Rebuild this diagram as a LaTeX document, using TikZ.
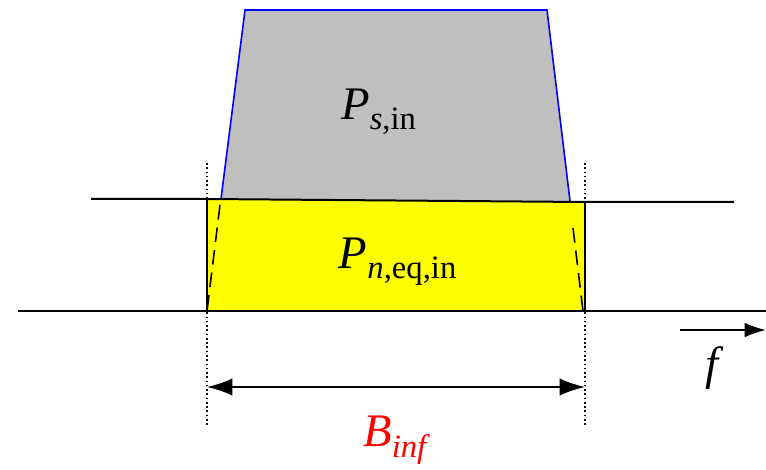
\documentclass[tikz,border=0pt]{standalone}
\usepackage{fontspec}
\setmainfont{Liberation Serif}[ItalicFont={Liberation Serif Italic}]
\usetikzlibrary{arrows.meta}

\definecolor{sgray}{HTML}{BFBFBF}
\definecolor{nyellow}{HTML}{FFFF00}
\tikzset{
  lbl/.style={font=\fontsize{35}{40}\selectfont, inner sep=0pt},
  edge/.style={line width=1.5pt},
}

\begin{document}
\begin{tikzpicture}[x=0.75pt, y=-0.75pt]
    \useasboundingbox (0,0) rectangle (766,470);

    % --- Signal power on top ---
    \coordinate (s1) at (221,199);
    \coordinate (s2) at (245,10);
    \coordinate (s3) at (547,10);
    \coordinate (s4) at (570,201);
    \fill[sgray] (s1) -- (s2) -- (s3) -- (s4) -- cycle;
    \draw[blue, line width=1.2pt] (s1) -- (s2) -- (s3) -- (s4);

    % --- Noise power below ---
    \coordinate (n1) at (207,311);
    \coordinate (n2) at (207,199);
    \coordinate (n3) at (585,202);
    \coordinate (n4) at (585,311);
    \fill[nyellow] (n1) -- (n2) -- (n3) -- (n4) -- cycle;
    \draw[edge] (91,199) -- (n2) -- (n3) -- (734,202);
    \draw[edge] (n1) -- (n2);
    \draw[edge] (n3) -- (n4);

    % dashed continuation of the signal flanks
    \draw[line width=1.2pt, dash pattern=on 11pt off 6pt] (220,205) -- (n1);
    \draw[line width=1.2pt, dash pattern=on 11pt off 6pt] (573,228) -- (583,311);

    % frequency axis
    \draw[edge] (18,311) -- (766,311);

    % --- Bandwidth markers ---
    \coordinate (bl) at (207,387);
    \coordinate (br) at (585,387);
    \draw[line width=1.2pt, dotted] (207,163) -- (207,425);
    \draw[line width=1.2pt, dotted] (585,163) -- (585,425);
    \draw[edge, {Latex[length=19pt,width=13pt]}-{Latex[length=19pt,width=13pt]}] (bl) -- (br);

    % frequency arrow
    \coordinate (fa) at (680,330);
    \coordinate (fb) at (766,330);
    \draw[edge, -{Latex[length=16pt,width=11pt]}] (fa) -- (fb);

    % --- Labels ---
    \node[lbl] (ps) at (379,112) {\textit{P}\textsubscript{\textit{s},in}};
    \node[lbl] (pn) at (398,262) {\textit{P}\textsubscript{\textit{n},eq,in}};
    \node[lbl, text=red] (bw) at (397,440) {\textit{B}\textsubscript{\textit{inf}}};
    \node[lbl] (f) at (715,368) {\textit{f}};
\end{tikzpicture}
\end{document}
